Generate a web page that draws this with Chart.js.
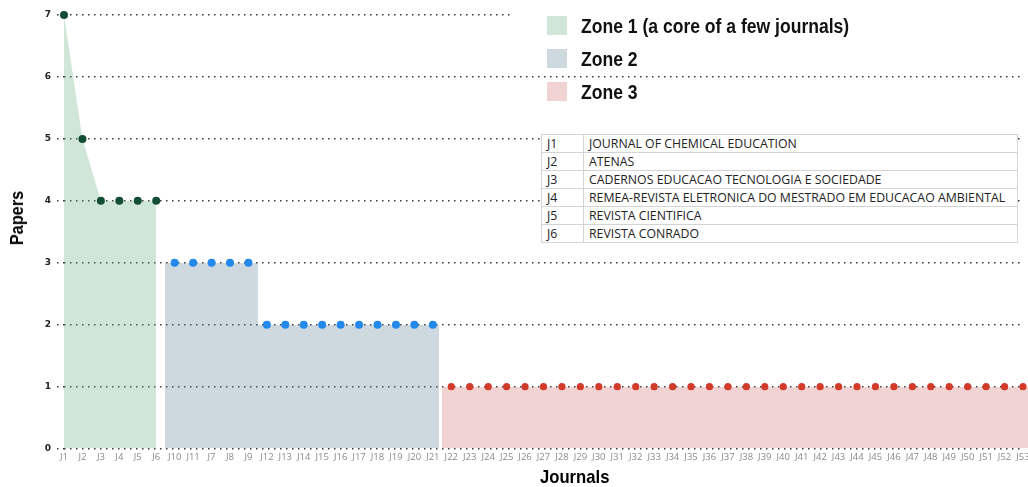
<!DOCTYPE html>
<html>
<head>
<meta charset="utf-8">
<script src="https://cdn.jsdelivr.net/npm/chart.js@4.4.1/dist/chart.umd.min.js"></script>
<style>
  html, body { margin: 0; padding: 0; background: #fff; }
  #wrap { position: relative; width: 1028px; height: 487px; overflow: hidden; }
  #lgbg { position: absolute; left: 512px; top: 8px; width: 516px; height: 16px; background: #fff; }
  #legend { position: absolute; left: 547px; top: 16px; font-family: "Liberation Sans", Arial, sans-serif; font-weight: bold; font-size: 19.5px; color: #111; }
  .li { position: relative; height: 33px; line-height: 20px; }
  .sw { position: absolute; left: 0; top: 0; width: 20px; height: 19px; }
  .lt { position: absolute; left: 34px; top: 0; white-space: nowrap; transform-origin: 0 50%; transform: scaleX(0.9); }
  .ttl { position: absolute; font-family: "Liberation Sans", Arial, sans-serif; font-weight: bold; font-size: 18.5px; color: #000; white-space: nowrap; line-height: 20px; }
  #xt { left: 540px; top: 467px; transform-origin: 0 50%; transform: scaleX(0.9); }
  #yt { left: 17px; top: 218px; transform: translate(-50%, -50%) rotate(-90deg) scaleX(0.88); }
  #jt { position: absolute; left: 541px; top: 134px; width: 477px; border-collapse: collapse; background: #fff; font-family: "Open Sans", sans-serif; font-size: 12.3px; color: #222; }
  #jt td { border: 1px solid #d4d4d4; height: 17px; padding: 0 0 0 5px; line-height: 17px; white-space: nowrap; }
  #jt td.c1 { width: 36px; }
</style>
</head>
<body>
<div id="wrap">
  <canvas id="c" width="1028" height="487"></canvas>
  <div id="lgbg"></div>
  <div id="legend"></div>
  <table id="jt"></table>
  <div class="ttl" id="xt"></div>
  <div class="ttl" id="yt"></div>
</div>
<script>
// ---- data ----
const zone1Journals = ['J1','J2','J3','J4','J5','J6'];
const zone1Papers   = [7,5,4,4,4,4];
const zone2Journals = ['J10','J11','J7','J8','J9','J12','J13','J14','J15','J16','J17','J18','J19','J20','J21'];
const zone2Papers   = [3,3,3,3,3,2,2,2,2,2,2,2,2,2,2];
const zone3Journals = ['J22','J23','J24','J25','J26','J27','J28','J29','J30','J31','J32','J33','J34','J35','J36','J37',
                       'J38','J39','J40','J41','J42','J43','J44','J45','J46','J47','J48','J49','J50','J51','J52','J53'];
const zone3Papers   = [1,1,1,1,1,1,1,1,1,1,1,1,1,1,1,1,1,1,1,1,1,1,1,1,1,1,1,1,1,1,1,1];
const yTicks = [0,1,2,3,4,5,6,7];
const xTitle = 'Journals';
const yTitle = 'Papers';
const zoneNames = ['Zone 1 (a core of a few journals)','Zone 2','Zone 3'];
const tableCodes = ['J1','J2','J3','J4','J5','J6'];
const tableNames = ['JOURNAL OF CHEMICAL EDUCATION','ATENAS','CADERNOS EDUCACAO TECNOLOGIA E SOCIEDADE',
  'REMEA-REVISTA ELETRONICA DO MESTRADO EM EDUCACAO AMBIENTAL','REVISTA CIENTIFICA','REVISTA CONRADO'];

// ---- styles ----
const zoneSwatch = ['#cfe6d8','#cdd8df','#f0d3d2'];
const zoneFill = ['rgba(95,172,125,0.3)','rgba(88,125,148,0.3)','rgba(205,108,105,0.3)'];
const zonePoint = ['#124d36','#2389ec','#d23a2a'];

const labels = zone1Journals.concat(zone2Journals, zone3Journals);
function place(journals, vals) {
  return labels.map(l => { const i = journals.indexOf(l); return i >= 0 ? vals[i] : null; });
}
const d1 = place(zone1Journals, zone1Papers);
const d2 = place(zone2Journals, zone2Papers);
const d3 = place(zone3Journals, zone3Papers);
const lastZone2 = labels.indexOf(zone2Journals[zone2Journals.length - 1]);

// legend, titles, table
document.getElementById('xt').textContent = xTitle;
document.getElementById('yt').textContent = yTitle;
const lg = document.getElementById('legend');
zoneNames.forEach((n, i) => {
  const d = document.createElement('div'); d.className = 'li';
  d.innerHTML = '<span class="sw" style="background:' + zoneSwatch[i] + '"></span><span class="lt"></span>';
  d.querySelector('.lt').textContent = n;
  lg.appendChild(d);
});
const tb = document.getElementById('jt');
tableCodes.forEach((c, i) => {
  const tr = document.createElement('tr');
  const a = document.createElement('td'); a.className = 'c1'; a.textContent = c;
  const b = document.createElement('td'); b.textContent = tableNames[i];
  tr.appendChild(a); tr.appendChild(b); tb.appendChild(tr);
});

// snap bar edges to whole pixels so adjacent translucent bars do not show seams
const snapBars = {
  id: 'snapBars',
  afterDatasetsUpdate(chart) {
    chart.data.datasets.forEach((ds, i) => {
      const meta = chart.getDatasetMeta(i);
      if (meta.type !== 'bar') return;
      meta.data.forEach(el => {
        if (!isFinite(el.x) || !isFinite(el.width)) return;
        const l = Math.round(el.x - el.width / 2), r = Math.round(el.x + el.width / 2);
        el.x = (l + r) / 2; el.width = r - l;
        el.y = Math.round(el.y); el.base = Math.round(el.base);
      });
    });
  }
};

new Chart(document.getElementById('c'), {
  data: {
    labels: labels,
    datasets: [
      { type: 'line', label: zoneNames[0], data: d1, fill: 'origin', backgroundColor: zoneFill[0],
        borderWidth: 0, borderColor: 'rgba(0,0,0,0)', tension: 0, spanGaps: false, clip: false,
        pointRadius: 4, pointHoverRadius: 4, pointBackgroundColor: zonePoint[0], pointBorderWidth: 0, order: 1 },
      { type: 'line', label: zoneNames[1] + ' pts', data: d2, showLine: false,
        pointRadius: 4, pointHoverRadius: 4, pointBackgroundColor: zonePoint[1], pointBorderWidth: 0, order: 0 },
      { type: 'line', label: zoneNames[2] + ' pts', data: d3, showLine: false, clip: false,
        pointRadius: 3.6, pointHoverRadius: 3.6, pointBackgroundColor: zonePoint[2], pointBorderWidth: 0, order: 0 },
      { type: 'bar', label: zoneNames[1], data: d2, backgroundColor: zoneFill[1],
        barPercentage: 1, categoryPercentage: 1, grouped: false, inflateAmount: 0,
        borderColor: '#ffffff', borderSkipped: false,
        borderWidth: (ctx) => ctx.dataIndex === lastZone2 ? {left:0, top:0, bottom:0, right:3} : 0, order: 2 },
      { type: 'bar', label: zoneNames[2], data: d3, backgroundColor: zoneFill[2],
        barPercentage: 1, categoryPercentage: 1, grouped: false, inflateAmount: 0, borderWidth: 0,
        clip: false, order: 2 }
    ]
  },
  plugins: [snapBars],
  options: {
    responsive: false,
    animation: false,
    devicePixelRatio: 1,
    layout: { padding: { left: 0, right: 5, top: 15, bottom: 21 } },
    plugins: { legend: { display: false }, tooltip: { enabled: false } },
    scales: {
      x: {
        type: 'category',
        offset: false,
        afterFit: (s) => { s.paddingLeft = 0; s.paddingRight = 0; },
        grid: { display: false, drawTicks: false },
        border: { display: false },
        ticks: { autoSkip: false, maxRotation: 0, minRotation: 0, padding: 3, color: '#8a8a8a',
                 font: { family: '"Open Sans", sans-serif', size: 9.5 } },
        title: { display: false }
      },
      y: {
        min: 0, max: 7,
        afterBuildTicks: (s) => { s.ticks = yTicks.map(v => ({ value: v })); },
        afterFit: (s) => { s.width = 64; },
        grid: { color: '#3a3a3a', lineWidth: 1.5, drawTicks: true, tickLength: 7,
                tickColor: '#3a3a3a', tickBorderDash: [1.5, 4.5] },
        border: { display: false, dash: [1.5, 4.5] },
        ticks: { padding: 6, color: '#222', font: { family: '"DejaVu Sans", sans-serif', size: 9, weight: 'bold' } },
        title: { display: false }
      }
    }
  }
});
</script>
</body>
</html>
